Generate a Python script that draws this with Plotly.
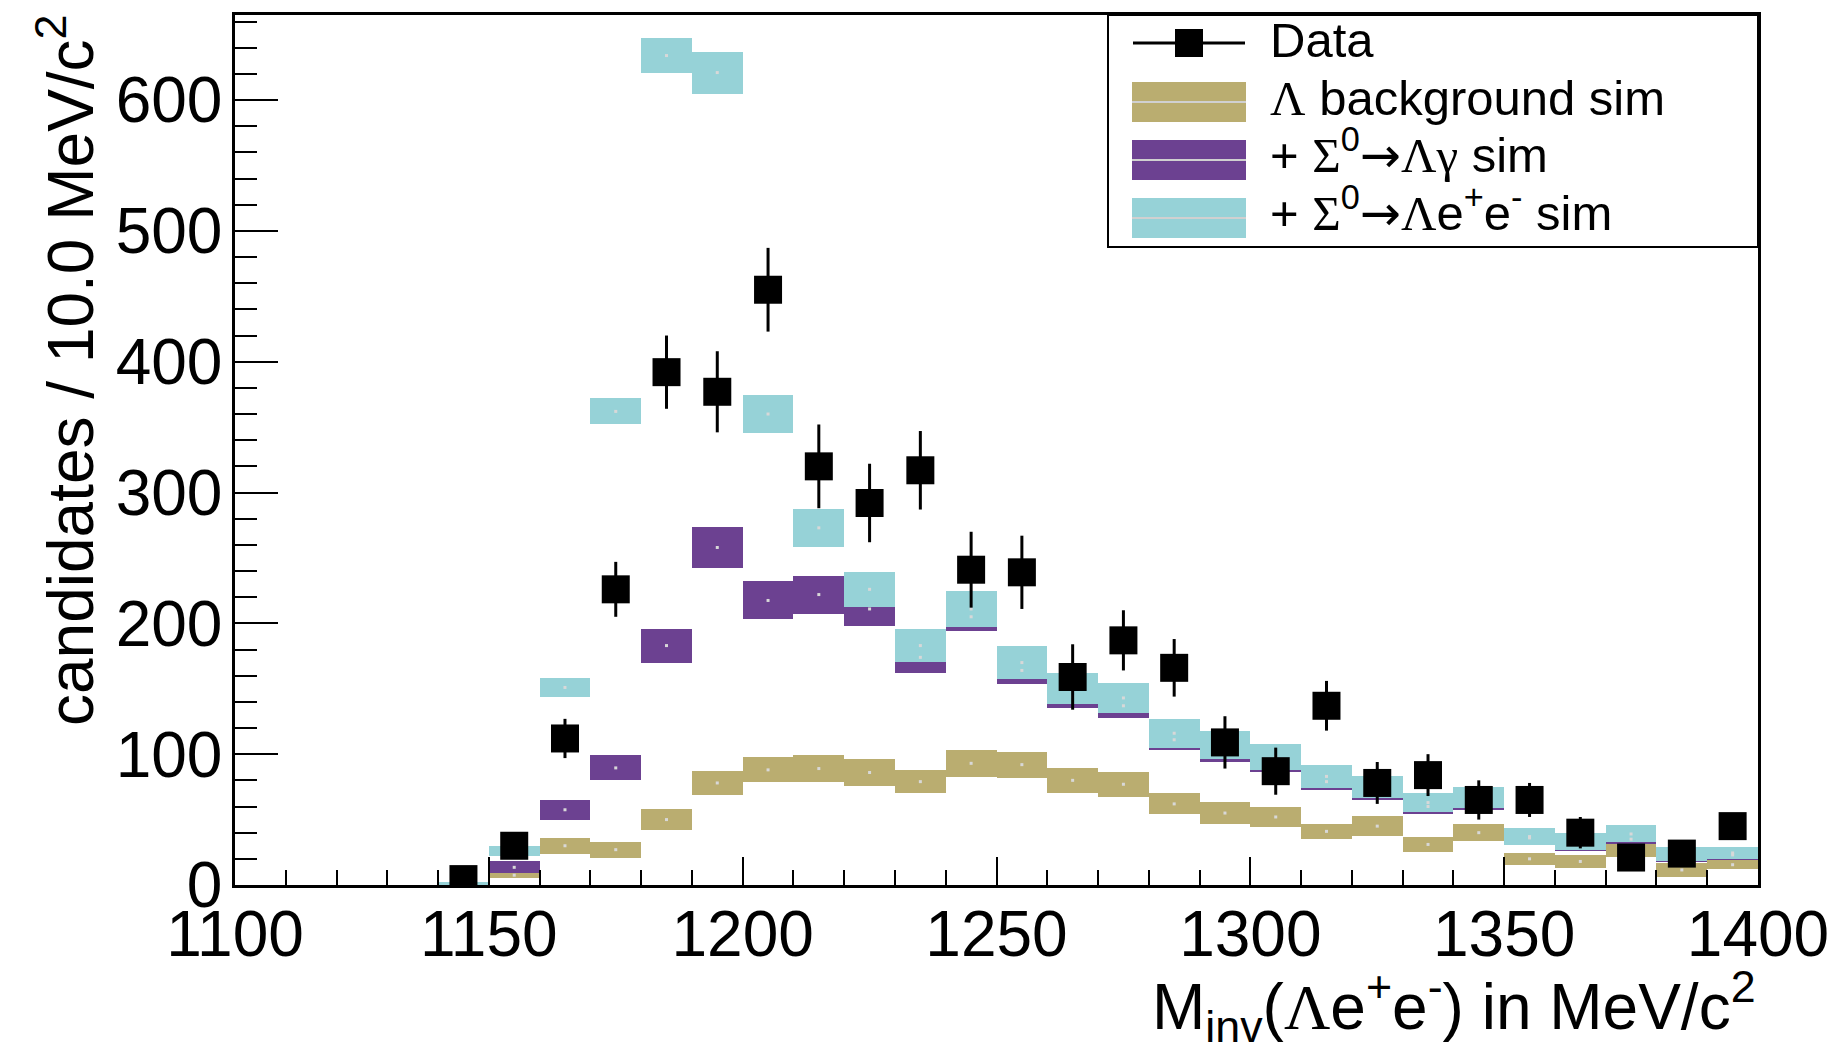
import plotly.graph_objects as go

# ---------------- data ----------------
bin_centers = [1145, 1155, 1165, 1175, 1185, 1195, 1205, 1215, 1225, 1235,
               1245, 1255, 1265, 1275, 1285, 1295, 1305, 1315, 1325, 1335,
               1345, 1355, 1365, 1375, 1385, 1395]

# Lambda background sim (stack level 1)
bg_val = [0.5, 7.5, 30, 27, 50, 78, 88, 89, 86, 79,
          93, 92, 80, 77, 62, 55, 52, 41, 45, 31,
          40, 20, 18, 27, 11.5, 15.5]
bg_err = [0.5, 2, 6, 6, 8, 9, 9.5, 10, 10, 9,
          10.5, 10, 9.5, 9.5, 8, 8.5, 8, 6, 7.5, 6,
          6.5, 4.5, 5, 5.5, 5.5, 3.5]

# + Sigma0 -> Lambda gamma sim (stack level 2)
sg_val = [0.8, 13.5, 57.5, 89.5, 183, 258, 217.5, 222, 211, 174,
          205, 164, 144, 137, 111, 101, 93, 79, 71, 60,
          62, 36, 30, 35, 21.5, 23]
sg_err = [0.6, 4.5, 7.5, 9.5, 13, 15.5, 14.5, 14.5, 13, 12,
          11, 10, 9, 9, 8, 7, 7, 6, 6, 6,
          5, 5, 4, 4, 4, 4]

# + Sigma0 -> Lambda e+ e- sim (stack level 3)
se_val = [1.2, 26, 151, 362, 634, 621, 360, 273, 226, 183,
          211, 170, 150, 143, 116, 107, 98, 83, 75, 63,
          67, 37, 33, 39, 23.5, 24.5]
se_err = [1, 4, 7, 10, 13.5, 16, 14.5, 14.5, 13.5, 12.5,
          14, 12.5, 12, 11.5, 11, 11, 10, 8.5, 8.5, 7.5,
          8, 6.5, 6.5, 6.5, 5.5, 4.5]

# Data
data_val = [4.5, 30, 112, 226, 392, 377, 455, 320, 292, 317,
            241, 239, 159, 187, 166, 109, 87, 137, 78, 84,
            65, 65, 40, 21, 24, 45]
data_err = [3, 8, 15, 21, 28, 31, 32, 32, 30, 30,
            29, 28, 25, 23, 22, 20, 18, 19, 16, 16,
            15, 13, 12, 10, 10, 10]

x_ticks = [1100, 1150, 1200, 1250, 1300, 1350, 1400]
y_ticks = [0, 100, 200, 300, 400, 500, 600]

GR = '<span style="font-family:Liberation Serif">'
AR = '<span style="font-family:DejaVu Sans">→</span>'
legend_labels = ["Data",
                 GR + "Λ</span> background sim",
                 "+ " + GR + "Σ</span><sup>0</sup>" + AR + GR + "Λγ</span> sim",
                 "+ " + GR + "Σ</span><sup>0</sup>" + AR + GR + "Λ</span>e<sup>+</sup>e<sup>-</sup> sim"]

# ---------------- styles ----------------
C_BG = "#BAAD70"
C_SG = "#6C4191"
C_SE = "#96D2D7"
FONT = "Liberation Sans, Arial, Helvetica, sans-serif"

W, H = 1841, 1050
L, R, T, B = 235, 1758, 15, 885   # plot frame in pixels


def px2x(px):
    return (px - L) / (R - L)


def py2y(py):
    return (B - py) / (B - T)


fig = go.Figure()

for vals, errs, col in [(bg_val, bg_err, C_BG), (sg_val, sg_err, C_SG), (se_val, se_err, C_SE)]:
    fig.add_trace(go.Bar(
        x=bin_centers,
        base=[v - e for v, e in zip(vals, errs)],
        y=[2 * e for e in errs],
        width=10,
        marker=dict(color=col, line=dict(width=0)),
        showlegend=False,
        hoverinfo="skip",
    ))
    fig.add_trace(go.Scatter(
        x=bin_centers, y=vals, mode="markers",
        marker=dict(symbol="square", size=3, color="#d8d8d8"),
        showlegend=False, hoverinfo="skip",
    ))

fig.add_trace(go.Scatter(
    x=bin_centers, y=data_val, mode="markers",
    marker=dict(symbol="square", size=28, color="black"),
    error_y=dict(type="data", array=data_err, color="black", thickness=3, width=0),
    showlegend=False,
))

shapes = []
annotations = []

# manual legend
shapes.append(dict(type="rect", xref="paper", yref="paper",
                   x0=px2x(1108), x1=px2x(1758), y0=py2y(247), y1=py2y(15),
                   line=dict(color="black", width=2), fillcolor="white", layer="above"))
# data symbol
shapes.append(dict(type="line", xref="paper", yref="paper",
                   x0=px2x(1133), x1=px2x(1245), y0=py2y(43), y1=py2y(43),
                   line=dict(color="black", width=3), layer="above"))
shapes.append(dict(type="rect", xref="paper", yref="paper",
                   x0=px2x(1175), x1=px2x(1203), y0=py2y(57), y1=py2y(29),
                   line=dict(width=0), fillcolor="black", layer="above"))
for col, yc in [(C_BG, 102), (C_SG, 160), (C_SE, 218)]:
    shapes.append(dict(type="rect", xref="paper", yref="paper",
                       x0=px2x(1132), x1=px2x(1246), y0=py2y(yc + 20), y1=py2y(yc - 20),
                       line=dict(width=0), fillcolor=col, layer="above"))
    shapes.append(dict(type="line", xref="paper", yref="paper",
                       x0=px2x(1132), x1=px2x(1246), y0=py2y(yc), y1=py2y(yc),
                       line=dict(color="#d0d0d0", width=2), layer="above"))

for lab, yc in zip(legend_labels, [40, 98, 152, 210]):
    annotations.append(dict(text=lab, xref="paper", yref="paper",
                            x=px2x(1268), y=py2y(yc), xanchor="left", yanchor="middle",
                            showarrow=False, font=dict(family=FONT, size=49, color="black")))

# axis titles
annotations.append(dict(text="candidates / 10.0 MeV/c<sup>2</sup>", xref="paper", yref="paper",
                        x=px2x(66), y=py2y(370), xanchor="center", yanchor="middle",
                        textangle=-90, showarrow=False,
                        font=dict(family=FONT, size=64, color="black")))
annotations.append(dict(text="M<sub>inv</sub>(" + GR + "Λ</span>e<sup>+</sup>e<sup>-</sup>) in MeV/c<sup>2</sup>",
                        xref="paper", yref="paper",
                        x=1.0, y=py2y(1006), xanchor="right", yanchor="middle",
                        showarrow=False,
                        font=dict(family=FONT, size=64, color="black")))

fig.update_layout(
    width=W, height=H,
    margin=dict(l=L, r=W - R, t=T, b=H - B, pad=0),
    paper_bgcolor="white", plot_bgcolor="white",
    barmode="overlay",
    bargap=0,
    showlegend=False,
    shapes=shapes,
    annotations=annotations,
    font=dict(family=FONT, color="black"),
    xaxis=dict(
        range=[1100, 1400], tickmode="array", tickvals=x_ticks,
        ticks="inside", ticklen=28, tickwidth=2, tickcolor="black",
        minor=dict(dtick=10, tick0=1100, ticks="inside", ticklen=15, tickwidth=2,
                   tickcolor="black", showgrid=False),
        showline=True, linecolor="black", linewidth=2.5, mirror=True,
        showgrid=False, zeroline=False,
        tickfont=dict(family=FONT, size=64, color="black"),
        ticklabelstandoff=-9,
    ),
    yaxis=dict(
        range=[0, 665], tickmode="array", tickvals=y_ticks,
        ticks="inside", ticklen=43, tickwidth=2, tickcolor="black",
        minor=dict(dtick=20, tick0=0, ticks="inside", ticklen=22, tickwidth=2,
                   tickcolor="black", showgrid=False),
        showline=True, linecolor="black", linewidth=2.5, mirror=True,
        showgrid=False, zeroline=False,
        tickfont=dict(family=FONT, size=64, color="black"),
        ticklabelstandoff=-3,
    ),
)

fig.write_html("out.html")
